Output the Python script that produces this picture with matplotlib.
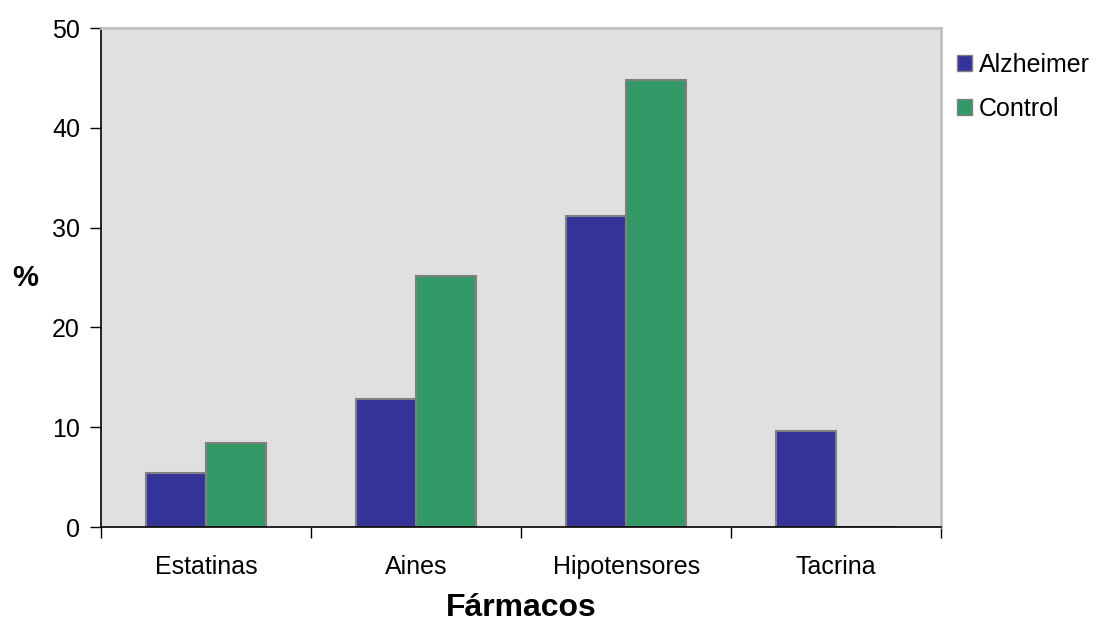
import numpy as np
import matplotlib.pyplot as plt
from matplotlib.patches import Patch

plt.rcParams['font.family'] = ['Liberation Sans', 'DejaVu Sans']

categorias = ['Estatinas', 'Aines', 'Hipotensores', 'Tacrina']
alzheimer = [5.4, 12.8, 31.2, 9.6]
control = [8.4, 25.2, 44.8, 0]

azul = '#333399'
verde = '#339966'

fig = plt.figure(figsize=(10.97, 6.23), dpi=100)
ax = fig.add_axes([0.092, 0.154, 0.766, 0.801])
ax.set_facecolor('#e0e0e0')

x = np.arange(len(categorias))
w = 0.286
ax.bar(x - w / 2, alzheimer, w, color=azul, edgecolor='#808080', linewidth=1.5, label='Alzheimer')
ax.bar(x + w / 2, control, w, color=verde, edgecolor='#808080', linewidth=1.5, label='Control')

ax.set_xlim(-0.5, 3.5)
ax.set_ylim(0, 50)
ax.set_yticks(range(0, 51, 10))
ax.set_xticks(x)
ax.set_xticklabels(categorias, fontsize=18)
ax.set_xticks(np.arange(-0.5, 4, 1), minor=True)
ax.tick_params(axis='x', which='major', length=0, pad=20)
ax.tick_params(axis='x', which='minor', length=8, width=1)
ax.tick_params(axis='y', labelsize=18, length=8, width=1, pad=7)

for s in ['top', 'right']:
    ax.spines[s].set_color('#c0c0c0')
    ax.spines[s].set_linewidth(2)
ax.spines['left'].set_linewidth(1.2)
ax.spines['bottom'].set_linewidth(1.2)

ax.set_xlabel('Fármacos', fontsize=23, fontweight='bold', labelpad=10)
ax.set_ylabel('%', fontsize=21, fontweight='bold', rotation=0, ha='center', va='center')
ax.yaxis.set_label_coords(-0.09, 0.5)

handles = [Patch(facecolor=azul, edgecolor='#808080', label='Alzheimer'),
           Patch(facecolor=verde, edgecolor='#808080', label='Control')]
fig.legend(handles=handles, loc='upper left', bbox_to_anchor=(0.872, 0.915), frameon=False,
           borderpad=0, borderaxespad=0, fontsize=18, handlelength=0.6, handleheight=0.6,
           handletextpad=0.3, labelspacing=0.8)

fig.savefig('out.png', dpi=100)
